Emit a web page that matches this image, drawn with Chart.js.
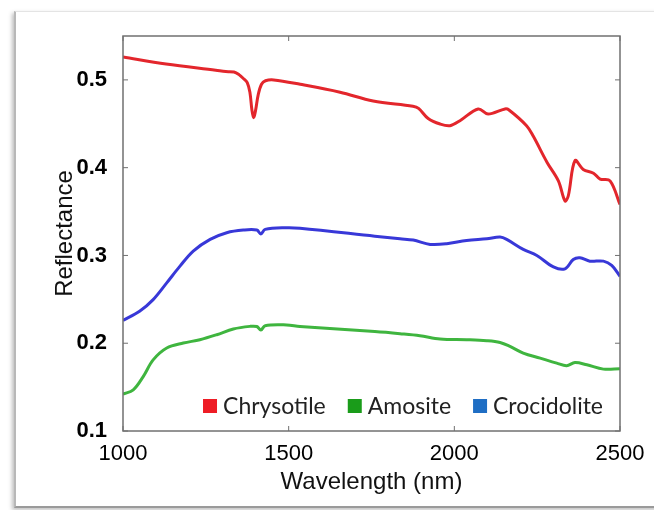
<!DOCTYPE html>
<html>
<head>
<meta charset="utf-8">
<script src="https://cdn.jsdelivr.net/npm/chart.js@4.4.1/dist/chart.umd.min.js"></script>
<style>
  html, body { margin: 0; padding: 0; background: #fff; }
  #wrap { position: relative; width: 654px; height: 510px; overflow: hidden; }
  #frame {
    position: absolute; left: 14px; top: 11px; width: 680px; height: 494px;
    border-left: 2px solid #b8b8b8; border-top: 1px solid #e4e4e4; border-bottom: 2px solid #9a9a9a;
    box-shadow: -2px 2px 4px rgba(0,0,0,0.25); background: #fff;
  }
  #chart { position: absolute; left: 0; top: 0; }
</style>
</head>
<body>
<div id="wrap">
  <div id="frame"></div>
  <canvas id="chart" width="654" height="510"></canvas>
</div>
<script>
const X_TICKS = [1000, 1500, 2000, 2500];
const Y_TICKS = [0.1, 0.2, 0.3, 0.4, 0.5];

const SERIES_NAMES = ['Chrysotile', 'Amosite', 'Crocidolite'];
const LINE_COLORS = ['#e3262c', '#3fb53f', '#3838d8'];
const LEGEND_COLORS = ['#ee1c25', '#1a9c1a', '#1f6ec4'];

// wavelength (nm) / reflectance
const chrysotileNm = [1000, 1130, 1280, 1310, 1335, 1350, 1365, 1375, 1383, 1389, 1394, 1400, 1408, 1418, 1430, 1455, 1535, 1655, 1755, 1875, 1892, 1921, 1957, 1987, 2017, 2072, 2102, 2153, 2165, 2218, 2238, 2280, 2314, 2334, 2344, 2364, 2389, 2420, 2440, 2470, 2500];
const chrysotileR  = [0.526, 0.518, 0.511, 0.5095, 0.509, 0.506, 0.501, 0.497, 0.486, 0.466, 0.457, 0.465, 0.483, 0.495, 0.499, 0.500, 0.495, 0.486, 0.476, 0.470, 0.4676, 0.456, 0.4497, 0.4478, 0.4535, 0.4669, 0.461, 0.4669, 0.4657, 0.4478, 0.436, 0.406, 0.385, 0.362, 0.368, 0.408, 0.398, 0.3937, 0.387, 0.385, 0.358];

const amositeNm = [1000, 1031, 1061, 1091, 1132, 1182, 1232, 1283, 1333, 1383, 1404, 1416, 1429, 1494, 1534, 1760, 1836, 1896, 1957, 2037, 2098, 2138, 2168, 2208, 2259, 2309, 2339, 2364, 2400, 2450, 2500];
const amositeR  = [0.142, 0.1469, 0.162, 0.181, 0.1945, 0.2002, 0.204, 0.2097, 0.2162, 0.2192, 0.219, 0.215, 0.22, 0.2208, 0.219, 0.2133, 0.2109, 0.2086, 0.2048, 0.204, 0.2029, 0.2009, 0.1964, 0.1888, 0.183, 0.1773, 0.1743, 0.178, 0.1754, 0.1705, 0.1709];

const crocidoliteNm = [1000, 1050, 1091, 1132, 1172, 1212, 1263, 1313, 1363, 1404, 1416, 1429, 1494, 1534, 1760, 1836, 1876, 1927, 1977, 2037, 2098, 2138, 2158, 2208, 2249, 2299, 2334, 2359, 2379, 2409, 2450, 2475, 2500];
const crocidoliteR  = [0.226, 0.2364, 0.2497, 0.2688, 0.2878, 0.305, 0.3183, 0.3259, 0.3289, 0.3289, 0.3245, 0.3297, 0.3316, 0.331, 0.322, 0.319, 0.3175, 0.3126, 0.3133, 0.3171, 0.319, 0.3209, 0.3183, 0.3069, 0.300, 0.287, 0.2848, 0.2954, 0.2974, 0.2935, 0.2935, 0.2886, 0.2763];

function toPoints(xs, ys) {
  return xs.map((x, i) => ({ x: x, y: ys[i] }));
}

// plot box + inward ticks, matlab style
const boxPlugin = {
  id: 'box',
  afterDraw(chart) {
    const { ctx, chartArea: a, scales } = chart;
    ctx.save();
    ctx.strokeStyle = '#707070';
    ctx.lineWidth = 1.5;
    ctx.strokeRect(a.left, a.top, a.right - a.left, a.bottom - a.top);
    ctx.lineWidth = 1;
    ctx.beginPath();
    X_TICKS.forEach(v => {
      const px = scales.x.getPixelForValue(v);
      ctx.moveTo(px, a.bottom); ctx.lineTo(px, a.bottom - 5);
      ctx.moveTo(px, a.top); ctx.lineTo(px, a.top + 5);
    });
    Y_TICKS.forEach(v => {
      const py = scales.y.getPixelForValue(v);
      ctx.moveTo(a.left, py); ctx.lineTo(a.left + 5, py);
      ctx.moveTo(a.right, py); ctx.lineTo(a.right - 5, py);
    });
    ctx.stroke();
    ctx.restore();
  }
};

// legend inside the plot, bottom right
const insideLegend = {
  id: 'insideLegend',
  afterDraw(chart) {
    const { ctx, chartArea: a } = chart;
    ctx.save();
    ctx.font = '23px Lato, "Open Sans", sans-serif';
    ctx.textBaseline = 'middle';
    const box = 14, gapText = 6, gapItem = 22;
    const widths = SERIES_NAMES.map(n => ctx.measureText(n).width);
    let total = widths.reduce((s, w) => s + w + box + gapText, 0) + gapItem * (SERIES_NAMES.length - 1);
    let x = a.right - 17 - total;
    const y = a.bottom - 25;
    SERIES_NAMES.forEach((n, i) => {
      ctx.fillStyle = LEGEND_COLORS[i];
      ctx.fillRect(x, y - box / 2, box, box);
      x += box + gapText;
      ctx.fillStyle = '#222';
      ctx.fillText(n, x, y + 1);
      x += widths[i] + gapItem;
    });
    ctx.restore();
  }
};

const fontFam = 'Arial, "Liberation Sans", sans-serif';

new Chart(document.getElementById('chart'), {
  type: 'line',
  data: {
    datasets: [
      { label: SERIES_NAMES[0], data: toPoints(chrysotileNm, chrysotileR), borderColor: LINE_COLORS[0] },
      { label: SERIES_NAMES[1], data: toPoints(amositeNm, amositeR), borderColor: LINE_COLORS[1] },
      { label: SERIES_NAMES[2], data: toPoints(crocidoliteNm, crocidoliteR), borderColor: LINE_COLORS[2] }
    ]
  },
  options: {
    responsive: false,
    animation: false,
    layout: { padding: { top: 36, right: 34, left: 0, bottom: 0 } },
    elements: {
      point: { radius: 0 },
      line: { borderWidth: 3, tension: 0.35, fill: false }
    },
    plugins: { legend: { display: false }, tooltip: { enabled: false } },
    scales: {
      x: {
        type: 'linear', min: 1000, max: 2500,
        afterBuildTicks: s => { s.ticks = X_TICKS.map(v => ({ value: v })); },
        afterFit: s => { s.height = 79; },
        grid: { display: false },
        border: { display: false },
        ticks: { color: '#000', font: { family: fontFam, size: 22 }, padding: 2, maxRotation: 0,
          callback: v => String(v) },
        title: { display: true, text: 'Wavelength (nm)', color: '#111',
          font: { family: fontFam, size: 24 }, padding: { top: 0, bottom: 13 } }
      },
      y: {
        min: 0.1, max: 0.55,
        afterBuildTicks: s => { s.ticks = Y_TICKS.map(v => ({ value: v })); },
        afterFit: s => { s.width = 123; },
        grid: { display: false },
        border: { display: false },
        ticks: { color: '#000', font: { family: fontFam, size: 22, weight: 'bold' }, padding: 8,
          callback: v => v.toFixed(1) },
        title: { display: true, text: 'Reflectance', color: '#111',
          font: { family: fontFam, size: 24 }, padding: { top: 51, bottom: 0 } }
      }
    }
  },
  plugins: [boxPlugin, insideLegend]
});
</script>
</body>
</html>
